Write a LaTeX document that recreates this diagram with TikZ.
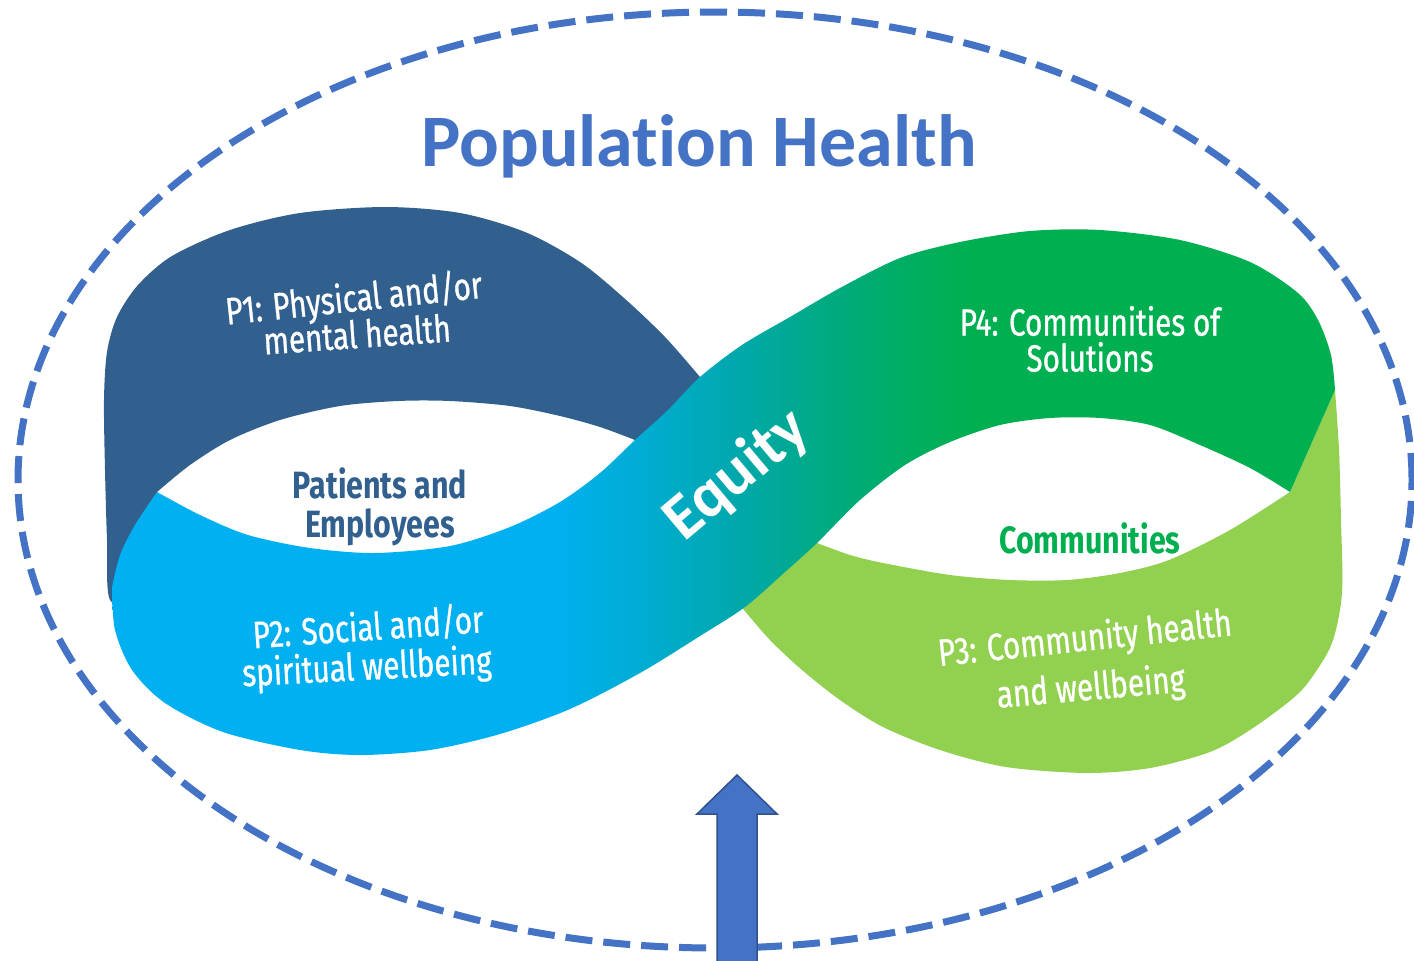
\documentclass[tikz,border=0pt]{standalone}
\usepackage{fontspec}
\setmainfont{Carlito}
\newfontfamily\labelfont[FakeStretch=0.78, FakeBold=0.8]{Fira Sans}
\newfontfamily\inlabelfont[FakeStretch=0.8]{Fira Sans}
\newfontfamily\titlefont[Ligatures=NoCommon]{Carlito}
\definecolor{pblue}{HTML}{4472C4}
\definecolor{pbluedark}{HTML}{2F528F}
\definecolor{dblue}{HTML}{31608F}
\definecolor{lblue}{HTML}{00B0F0}
\definecolor{pgreen}{HTML}{00AF50}
\definecolor{plime}{HTML}{92D050}
\definecolor{ribA}{RGB}{0,172,208}
\definecolor{ribB}{RGB}{0,168,172}
\definecolor{ribC}{RGB}{0,170,132}
\definecolor{ribD}{RGB}{0,174,98}
\pgfdeclarehorizontalshading{ribbonshade}{100bp}{color(0bp)=(lblue); color(43bp)=(lblue); color(47bp)=(ribA); color(50.5bp)=(ribB); color(54bp)=(ribC); color(57.5bp)=(ribD); color(60bp)=(pgreen); color(100bp)=(pgreen)}
\begin{document}
\begin{tikzpicture}[x=1pt,y=-1pt,
  lbl/.style={text=white, font=\labelfont\fontsize{38}{42}\selectfont, inner sep=0pt},
  inlbl/.style={font=\inlabelfont\bfseries\fontsize{38}{42}\selectfont, inner sep=0pt},
  titlestyle/.style={text=pblue, font=\titlefont\bfseries\fontsize{74}{80}\selectfont, inner sep=0pt},
  equitystyle/.style={text=white, font=\titlefont\bfseries\fontsize{64}{66}\selectfont, rotate=40, inner sep=0pt},
  dashring/.style={draw=pblue, line width=7pt, dash pattern=on 27pt off 11pt},
  upblock/.style={fill=pblue},
  upblockedge/.style={draw=pbluedark, line width=1.5pt, line join=miter}]
\useasboundingbox (0,0) rectangle (1414,961);
\fill[white] (0,0) rectangle (1414,961);

% P1 dark blue loop (behind)
\fill[dblue] plot[smooth] coordinates {(140,610) (110,600) (107,540) (105,470) (104,400) (107,352) (117,317) (138,285) (172,256) (230,230) (300,213) (385,207) (460,213) (525,232) (580,262) (624,298) (665,337) (700,377)}
  -- (725,400) -- (665,462) -- (635,440)
  -- plot[smooth] coordinates {(635,440) (600,427) (560,416) (510,406) (450,401) (398,401) (340,406) (280,420) (230,440) (190,465) (157,492)}
  -- (175,525) -- cycle;

% P3 lime loop
\fill[plime] (1335,390) -- plot[smooth] coordinates {(1335,390) (1339,450) (1341,520) (1342,593) (1332,643) (1310,680) (1291,700) (1250,730) (1210,752) (1150,768) (1087,773) (1006,767) (940,750) (883,727) (840,700) (802,670) (770,640) (744,610)}
  -- (730,590) -- (800,530) -- (817,543)
  -- plot[smooth] coordinates {(817,543) (850,555) (883,563) (950,575) (1010,580) (1067,580) (1120,573) (1169,560) (1230,530) (1290,492)} -- cycle;

% P2 + Equity band + P4 ribbon
\shade[shading=ribbonshade] (112,587)
  -- plot[smooth] coordinates {(112,587) (115,630) (132,670) (165,703) (223,732) (300,750) (360,755) (430,750) (500,734) (570,709) (640,673) (700,636) (745,607) (785,572) (817,543) (860,500) (905,465) (950,442) (1000,425) (1050,418) (1100,418) (1150,425) (1200,445) (1250,468) (1290,492)}
  -- (1335,390)
  -- plot[smooth] coordinates {(1335,390) (1331,355) (1318,320) (1298,293) (1250,262) (1180,240) (1100,230) (1030,231) (960,242) (900,258) (840,288) (790,317) (742,345) (700,377) (668,410) (635,440) (600,473) (560,502) (510,527) (450,546) (375,553) (310,548) (248,535) (200,515) (157,492)}
  -- plot[smooth] coordinates {(157,492) (135,525) (120,555) (112,587)}
  -- cycle;

% dashed ring
\draw[dashring] (715,480) ellipse [x radius=697pt, y radius=468pt];

% title
\node[titlestyle] (title) at (699,146) {Population Health};

% labels
\node[lbl, rotate=6] (p1a) at (354,300) {P1: Physical and/or};
\node[lbl, rotate=4] (p1b) at (357,334) {mental health};
\node[lbl, rotate=4] (p2a) at (368,627) {P2: Social and/or};
\node[lbl, rotate=3] (p2b) at (367,669) {spiritual wellbeing};
\node[lbl, rotate=6] (p3a) at (1085,640) {P3: Community health};
\node[lbl, rotate=5] (p3b) at (1091,689) {and wellbeing};
\node[lbl] (p4a) at (1090,321) {P4: Communities of};
\node[lbl] (p4b) at (1090,357) {Solutions};
\node[inlbl, text=dblue] (pat1) at (380,483) {Patients and};
\node[inlbl, text=dblue] (pat2) at (380,527) {Employees};
\node[inlbl, text=pgreen] (comm) at (1090,538) {Communities};
\node[equitystyle] (equity) at (737,475) {Equity};

% up arrow
\coordinate (tip) at (737,775);
\coordinate (base) at (737,961);
\fill[upblock] ([xshift=-20pt]base) -- ([xshift=-20pt]base |- 0,814) -- ([xshift=-40pt]tip |- 0,814) -- (tip) -- ([xshift=40pt]tip |- 0,814) -- ([xshift=20pt]base |- 0,814) -- ([xshift=20pt]base) -- cycle;
\draw[upblockedge] ([xshift=-20pt]base) -- ([xshift=-20pt]base |- 0,814) -- ([xshift=-40pt]tip |- 0,814) -- (tip) -- ([xshift=40pt]tip |- 0,814) -- ([xshift=20pt]base |- 0,814) -- ([xshift=20pt]base);
\end{tikzpicture}
\end{document}
